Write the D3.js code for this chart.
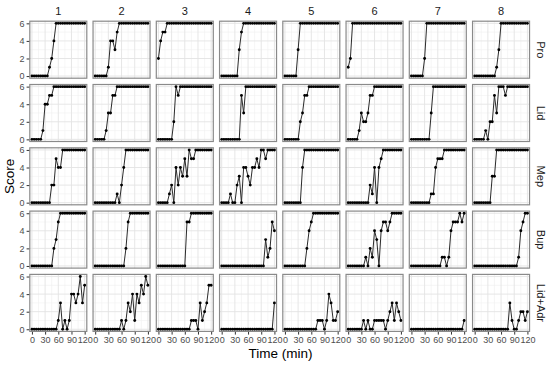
<!DOCTYPE html>
<html>
<head>
<meta charset="utf-8">
<script src="https://cdn.jsdelivr.net/npm/d3@7"></script>
<style>
  body { margin: 0; background: #fff; }
  svg { font-family: 'Liberation Sans', Arial, sans-serif; display: block; }
</style>
</head>
<body>
<div id="chart"></div>
<script>
// Faceted score-over-time chart

// time points (min), one score per point
const times = [0, 5, 10, 15, 20, 25, 30, 35, 40, 45, 50, 55, 60, 65, 70, 75, 80, 85, 90, 95, 100, 105, 110, 115, 120]
const subjects = ['1', '2', '3', '4', '5', '6', '7', '8']
const drugs = ['Pro', 'Lid', 'Mep', 'Bup', 'Lid+Adr']
const xTicks = [0, 30, 60, 90, 120]
const yTicks = [0, 2, 4, 6]

// scores, one row per subject
const scoresPro = [
  [0,0,0,0,0, 0,0,0,1,2, 4,6,6,6,6, 6,6,6,6,6, 6,6,6,6,6],
  [0,0,0,0,0, 0,1,4,4,3, 5,6,6,6,6, 6,6,6,6,6, 6,6,6,6,6],
  [2,4,5,5,6, 6,6,6,6,6, 6,6,6,6,6, 6,6,6,6,6, 6,6,6,6,6],
  [0,0,0,0,0, 0,0,0,3,5, 6,6,6,6,6, 6,6,6,6,6, 6,6,6,6,6],
  [0,0,0,0,0, 0,3,6,6,6, 6,6,6,6,6, 6,6,6,6,6, 6,6,6,6,6],
  [1,2,6,6,6, 6,6,6,6,6, 6,6,6,6,6, 6,6,6,6,6, 6,6,6,6,6],
  [0,0,0,0,0, 0,2,6,6,6, 6,6,6,6,6, 6,6,6,6,6, 6,6,6,6,6],
  [0,0,0,0,0, 0,0,0,0,0, 1,3,6,6,6, 6,6,6,6,6, 6,6,6,6,6]
]
const scoresLid = [
  [0,0,0,0,0, 1,4,4,5,5, 6,6,6,6,6, 6,6,6,6,6, 6,6,6,6,6],
  [0,0,0,0,0, 1,3,3,5,5, 6,6,6,6,6, 6,6,6,6,6, 6,6,6,6,6],
  [0,0,0,0,0, 0,0,2,6,5, 6,6,6,6,6, 6,6,6,6,6, 6,6,6,6,6],
  [0,0,0,0,0, 0,0,0,0,5, 3,6,6,6,6, 6,6,6,6,6, 6,6,6,6,6],
  [0,0,0,0,0, 0,0,2,3,5, 5,6,6,6,6, 6,6,6,6,6, 6,6,6,6,6],
  [0,0,0,0,0, 1,3,2,2,3, 5,5,6,6,6, 6,6,6,6,6, 6,6,6,6,6],
  [0,0,0,0,0, 0,0,0,0,3, 6,6,6,6,6, 6,6,6,6,6, 6,6,6,6,6],
  [0,0,0,0,0, 1,0,2,2,5, 3,6,6,6,5, 6,6,6,6,6, 6,6,6,6,6]
]
const scoresMep = [
  [0,0,0,0,0, 0,0,0,0,2, 2,5,4,4,6, 6,6,6,6,6, 6,6,6,6,6],
  [0,0,0,0,0, 0,0,0,0,0, 1,0,2,4,6, 6,6,6,6,6, 6,6,6,6,6],
  [0,0,0,0,0, 1,2,0,4,2, 4,3,5,3,6, 5,5,6,6,6, 6,6,6,6,6],
  [0,0,0,0,1, 0,0,2,3,0, 4,4,3,2,4, 4,5,4,6,6, 5,6,6,6,6],
  [0,0,0,0,0, 0,0,0,4,6, 6,6,6,6,6, 6,6,6,6,6, 6,6,6,6,6],
  [0,0,0,0,0, 0,0,0,0,0, 2,1,4,0,4, 5,6,6,6,6, 6,6,6,6,6],
  [0,0,0,0,0, 0,0,0,0,1, 1,4,5,5,5, 6,6,6,6,6, 6,6,6,6,6],
  [0,0,0,0,0, 0,0,0,3,3, 6,6,6,6,6, 6,6,6,6,6, 6,6,6,6,6]
]
const scoresBup = [
  [0,0,0,0,0, 0,0,0,0,0, 2,3,5,6,6, 6,6,6,6,6, 6,6,6,6,6],
  [0,0,0,0,0, 0,0,0,0,0, 0,0,0,0,2, 5,6,6,6,6, 6,6,6,6,6],
  [0,0,0,0,0, 0,0,0,0,0, 0,0,0,5,5, 6,6,6,6,6, 6,6,6,6,6],
  [0,0,0,0,0, 0,0,0,0,0, 0,0,0,0,0, 0,0,0,0,0, 3,1,2,5,4],
  [0,0,0,0,0, 0,0,0,0,0, 2,4,5,6,6, 6,6,6,6,6, 6,6,6,6,6],
  [0,0,0,0,0, 0,0,0,1,0, 2,1,4,3,0, 4,5,5,4,5, 6,6,6,6,6],
  [0,0,0,0,0, 0,0,0,0,0, 0,0,0,0,1, 1,0,1,4,5, 5,5,6,5,6],
  [0,0,0,0,0, 0,0,0,0,0, 0,0,0,0,0, 0,0,0,0,0, 1,4,5,6,6]
]
const scoresLidAdr = [
  [0,0,0,0,0, 0,0,0,0,0, 0,0,1,3,0, 1,0,1,4,4, 3,4,6,3,5],
  [0,0,0,0,0, 0,0,0,0,0, 0,0,1,0,1, 3,2,4,1,4, 3,5,4,6,5],
  [0,0,0,0,0, 0,0,0,0,0, 0,0,0,0,0, 1,1,1,0,3, 1,2,3,5,5],
  [0,0,0,0,0, 0,0,0,0,0, 0,0,0,0,0, 0,0,0,0,0, 0,0,0,0,3],
  [0,0,0,0,0, 0,0,0,0,0, 0,0,0,0,0, 1,1,1,0,1, 4,3,1,1,2],
  [0,0,0,0,0, 0,0,1,0,1, 0,0,1,1,1, 1,1,0,1,2, 3,1,3,2,1],
  [0,0,0,0,0, 0,0,0,0,0, 0,0,0,0,0, 0,0,0,0,0, 0,0,0,0,1],
  [0,0,0,0,0, 0,0,0,0,0, 0,0,0,0,0, 0,3,1,0,0, 1,2,2,1,2]
]
const scoresByDrug = [scoresPro, scoresLid, scoresMep, scoresBup, scoresLidAdr]

// layout
var width = 550
var height = 366
var margin = { top: 20.7, left: 29.3 }
var panelW = 58
var panelH = 58
var pitchX = 63.25
var pitchY = 63.3

// scales shared by every panel (5% expansion like ggplot)
const xScale = d3.scaleLinear().domain([-6, 126]).range([0, panelW])
const yScale = d3.scaleLinear().domain([-0.3, 6.3]).range([panelH, 0])

const line = d3.line()
  .x((d) => xScale(d.t))
  .y((d) => yScale(d.v))

var svg = d3.select('#chart')
  .append('svg')
  .attr('width', width)
  .attr('height', height)

svg.append('rect').attr('width', width).attr('height', height).attr('fill', '#fff')

drugs.forEach((drug, r) => {
  subjects.forEach((subj, c) => {
    const g = svg.append('g')
      .attr('transform', `translate(${margin.left + c * pitchX}, ${margin.top + r * pitchY})`)

    g.append('rect')
      .attr('width', panelW).attr('height', panelH).attr('fill', '#fff')

    // minor grid
    g.selectAll('.vminor').data([15, 45, 75, 105]).enter().append('line')
      .attr('x1', (d) => xScale(d)).attr('x2', (d) => xScale(d))
      .attr('y1', 0).attr('y2', panelH)
      .attr('stroke', '#f0f0f0').attr('stroke-width', 0.6)
    g.selectAll('.hminor').data([1, 3, 5]).enter().append('line')
      .attr('y1', (d) => yScale(d)).attr('y2', (d) => yScale(d))
      .attr('x1', 0).attr('x2', panelW)
      .attr('stroke', '#f0f0f0').attr('stroke-width', 0.6)
    // major grid
    g.selectAll('.vmajor').data(xTicks).enter().append('line')
      .attr('x1', (d) => xScale(d)).attr('x2', (d) => xScale(d))
      .attr('y1', 0).attr('y2', panelH)
      .attr('stroke', '#e3e3e3').attr('stroke-width', 0.9)
    g.selectAll('.hmajor').data(yTicks).enter().append('line')
      .attr('y1', (d) => yScale(d)).attr('y2', (d) => yScale(d))
      .attr('x1', 0).attr('x2', panelW)
      .attr('stroke', '#e3e3e3').attr('stroke-width', 0.9)

    const pts = times.map((t, i) => ({ t: t, v: scoresByDrug[r][c][i] }))

    g.append('path')
      .datum(pts)
      .attr('d', line)
      .attr('fill', 'none')
      .attr('stroke', '#2b2b2b')
      .attr('stroke-width', 1)

    g.selectAll('circle')
      .data(pts)
      .enter()
      .append('circle')
      .attr('cx', (d) => xScale(d.t))
      .attr('cy', (d) => yScale(d.v))
      .attr('r', 1.45)
      .attr('fill', '#000')

    // panel border
    g.append('rect')
      .attr('x', 0.5).attr('y', 0.5)
      .attr('width', panelW - 1).attr('height', panelH - 1)
      .attr('fill', 'none')
      .attr('stroke', '#8a8a8a')
      .attr('stroke-width', 1.2)

    // y axis on first column
    if (c === 0) {
      const ya = g.append('g')
        .call(d3.axisLeft(yScale).tickValues(yTicks).tickFormat(d3.format('d')).tickSize(2.7).tickPadding(2))
      ya.select('.domain').remove()
      ya.selectAll('line').attr('stroke', '#333')
      ya.selectAll('text').attr('fill', '#4d4d4d').style('font-size', '9px')
    }
    // x axis on bottom row
    if (r === drugs.length - 1) {
      const xa = g.append('g')
        .attr('transform', `translate(0, ${panelH})`)
        .call(d3.axisBottom(xScale).tickValues(xTicks).tickFormat(d3.format('d')).tickSize(2.7).tickPadding(2))
      xa.select('.domain').remove()
      xa.selectAll('line').attr('stroke', '#333')
      xa.selectAll('text').attr('fill', '#4d4d4d').style('font-size', '9px')
    }
    // column strip
    if (r === 0) {
      g.append('text')
        .attr('x', panelW / 2).attr('y', -5.5)
        .attr('text-anchor', 'middle')
        .attr('fill', '#1a1a1a')
        .style('font-size', '11px')
        .text(subj)
    }
    // row strip
    if (c === subjects.length - 1) {
      g.append('text')
        .attr('transform', `translate(${panelW + 7}, ${panelH / 2}) rotate(90)`)
        .attr('text-anchor', 'middle')
        .attr('fill', '#1a1a1a')
        .style('font-size', '11px')
        .text(drug)
    }
  })
})

// axis titles
svg.append('text')
  .attr('x', 280.5).attr('y', 358)
  .attr('text-anchor', 'middle')
  .style('font-size', '13.5px')
  .text('Time (min)')

svg.append('text')
  .attr('transform', 'translate(14, 176.3) rotate(-90)')
  .attr('text-anchor', 'middle')
  .style('font-size', '13.5px')
  .text('Score')
</script>
</body>
</html>
